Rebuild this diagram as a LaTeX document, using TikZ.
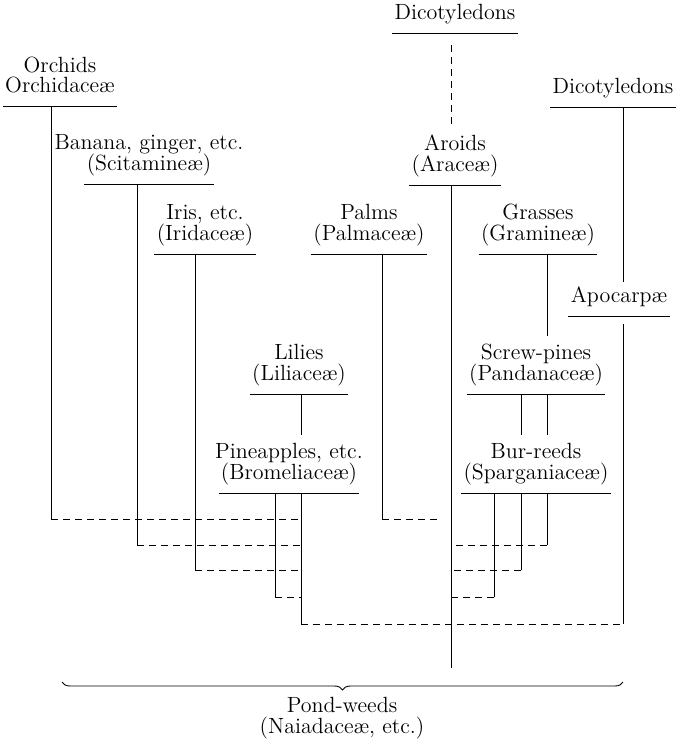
\documentclass[tikz,border=0pt]{standalone}
\usepackage{tikz}
\usetikzlibrary{positioning,decorations.pathreplacing}
\tikzset{
  fam/.style={font=\fontsize{11}{13}\selectfont,anchor=south,inner xsep=1pt,inner ysep=0pt,
    text height=8pt,text depth=6.5pt},
  com/.style={font=\fontsize{11}{13}\selectfont,anchor=base,inner sep=0pt},
  uline/.style={line width=0.45pt},
  trunk/.style={line width=0.4pt},
  tie/.style={line width=0.4pt,dash pattern=on 3.5pt off 2.5pt}
}
\begin{document}
\begin{tikzpicture}[x=0.5pt,y=-0.5pt]
  \useasboundingbox (0,0) rectangle (681,745);
  % group names
  \node[fam] (dicA) at (455,33) {Dicotyledons};
  \node[fam] (orc) at (60,106) {Orchidaceæ};
  \node[above=10pt of orc.base,com] (orcn) {Orchids};
  \node[fam] (sci) at (149,184) {(Scitamineæ)};
  \node[above=10.5pt of sci.base,com] (scin) {Banana, ginger, etc.};
  \node[fam] (ara) at (455,185) {(Araceæ)};
  \node[above=10.5pt of ara.base,com] (aran) {Aroids};
  \node[fam] (dicB) at (613,107) {Dicotyledons};
  \node[fam] (iri) at (205,254) {(Iridaceæ)};
  \node[above=10.5pt of iri.base,com] (irin) {Iris, etc.};
  \node[fam] (pal) at (369,254) {(Palmaceæ)};
  \node[above=10.5pt of pal.base,com] (paln) {Palms};
  \node[fam] (gra) at (538,254) {(Gramineæ)};
  \node[above=10.5pt of gra.base,com] (gran) {Grasses};
  \node[fam] (apo) at (619,316) {Apocarpæ};
  \node[fam] (lil) at (299,394) {(Liliaceæ)};
  \node[above=10.5pt of lil.base,com] (liln) {Lilies};
  \node[fam] (pan) at (536,394) {(Pandanaceæ)};
  \node[above=10.5pt of pan.base,com] (pann) {Screw-pines};
  \node[fam] (bro) at (289,493) {(Bromeliaceæ)};
  \node[above=10.5pt of bro.base,com] (bron) {Pineapples, etc.};
  \node[fam] (spa) at (536,493) {(Sparganiaceæ)};
  \node[above=10.5pt of spa.base,com] (span) {Bur-reeds};
  \node[com] (pond) at (342,712) {Pond-weeds};
  \node[below=10.5pt of pond.base,com] (naia) {(Naiadaceæ, etc.)};
  \foreach \n in {dicA,orc,sci,ara,dicB,iri,pal,gra,apo,lil,pan,bro,spa}
    \draw[uline] (\n.south west) -- (\n.south east);
  % junction points
  \coordinate (o1) at (51,519);
  \coordinate (s1) at (137,545);
  \coordinate (i1) at (195,570);
  \coordinate (b1) at (275,597);
  \coordinate (b2) at (301,624);
  \coordinate (p1) at (382,519);
  \coordinate (p2) at (440,519);
  \coordinate (a1) at (451,668);
  \coordinate (r1) at (623,624);
  \coordinate (u1) at (547,545);
  \coordinate (u2) at (521,570);
  \coordinate (u3) at (494,597);
  % descent lines
  \draw[tie] ([yshift=-6pt]dicA.south -| a1) -- ([yshift=3pt]aran.north -| a1);
  \draw[trunk] (orc.south -| o1) -- (o1);
  \draw[trunk] (sci.south -| s1) -- (s1);
  \draw[trunk] (iri.south -| i1) -- (i1);
  \draw[trunk] (pal.south -| p1) -- (p1);
  \draw[trunk] (ara.south -| a1) -- (a1);
  \draw[trunk] (dicB.south -| r1) -- ([yshift=2pt]apo.north -| r1);
  \draw[trunk] ([yshift=-4pt]apo.south -| r1) -- (r1);
  \draw[trunk] (gra.south -| u1) -- ([yshift=4pt]pann.north -| u1);
  \draw[trunk] (pan.south -| u2) -- ([yshift=4pt]span.north -| u2);
  \draw[trunk] (pan.south -| u1) -- ([yshift=4pt]span.north -| u1);
  \draw[trunk] (lil.south -| b2) -- ([yshift=4pt]bron.north -| b2);
  \draw[trunk] (bro.south -| b1) -- (b1);
  \draw[trunk] (bro.south -| b2) -- (b2);
  \foreach \c in {u1,u2,u3}
    \draw[trunk] (spa.south -| \c) -- (\c);
  % dashed ties
  \foreach \c in {o1,s1,i1,b1}
    \draw[tie] (\c) -- (\c -| b2);
  \draw[tie] (b2) -- (r1);
  \draw[tie] (p1) -- (p2);
  \foreach \c in {u1,u2,u3}
    \draw[tie] (\c) -- (\c -| a1);
  % brace over pond-weeds
  \coordinate (bl) at (62,682);
  \coordinate (br) at (623,682);
  \draw[uline,decorate,decoration={brace,mirror,amplitude=4pt}] (bl) -- (br);
\end{tikzpicture}
\end{document}
